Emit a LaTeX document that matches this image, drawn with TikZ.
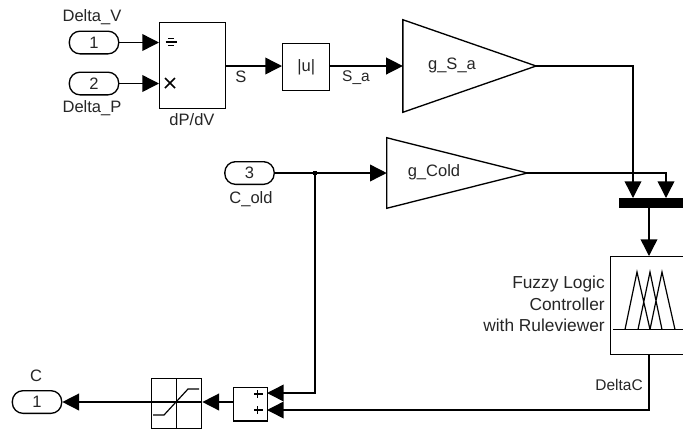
\documentclass[tikz,border=0pt]{standalone}
\usepackage{fontspec}
\setmainfont{Liberation Sans}
\usetikzlibrary{arrows.meta}
\colorlet{inkgray}{black!85}
\tikzset{
  x=0.75pt,y=-0.75pt,
  blockbox/.style={draw=black,line width=1pt,fill=white,inner sep=0pt,anchor=north west},
  port/.style={draw=black,line width=1pt,rounded corners=8pt,inner sep=0pt,minimum width=37pt,minimum height=17pt,text=inkgray,font=\fontsize{12.4}{14}\selectfont},
  gainbox/.style={inner sep=0pt},
  tri/.style={draw=black,line width=1pt,line join=miter},
  wire/.style={draw=black,line width=1.1pt},
  arrowwire/.style={wire,-{Triangle[length=12.5pt,width=12.5pt]}},
  lab/.style={inner sep=0pt,text=inkgray,font=\fontsize{12.4}{14}\selectfont},
  smalllab/.style={inner sep=0pt,text=inkgray,font=\fontsize{11.6}{14}\selectfont},
  sign/.style={draw=black,line width=0.9pt},
}
\begin{document}
\begin{tikzpicture}
\clip (0,0) rectangle (683,430);
\fill[white] (0,0) rectangle (683,430);

% Ports
\node[port] (in1) at (94,42.5) {1};
\node[port] (in2) at (94,83.5) {2};
\node[port] (in3) at (249.5,173) {3};
\node[port] (out1) at (37,402) {1};
\node[lab] (lv) at (92,17) {Delta\_V};
\node[lab] (lp) at (92,108) {Delta\_P};
\node[lab] (lo) at (251,199) {C\_old};
\node[lab] (lc) at (36,376) {C};

% Product
\node[blockbox,minimum width=49.5pt,minimum height=64.5pt] (prod) at (159,22) {};
\node[lab] (lprod) at (192,120) {dP/dV};
\coordinate (p1) at (prod.west |- in1.east);
\coordinate (p2) at (prod.west |- in2.east);
\draw[sign] (165.5,42) -- (177,42);
\draw[sign,line width=1.2pt] (168,38.5) -- (174,38.5) (168,45.5) -- (174,45.5);
\draw[sign,line width=1.1pt] (165,78) -- (175,88) (175,78) -- (165,88);

% Abs
\node[blockbox,minimum width=35.25pt,minimum height=35.25pt] (abs) at (282,43) {};
\node[lab] at (abs.center) {|u|};
\node[lab] (ls) at (241,77) {S};
\node[smalllab] (lsa) at (356,78) {S\_a};

% Gains
\node[gainbox,minimum width=99.5pt,minimum height=69pt] (gsa) at (469.5,66) {};
\draw[tri] (gsa.north west) -- (gsa.east) -- (gsa.south west) -- cycle;
\node[lab] at (452,65.5) {g\_S\_a};
\node[gainbox,minimum width=105pt,minimum height=52.5pt] (gco) at (457,173) {};
\draw[tri] (gco.north west) -- (gco.east) -- (gco.south west) -- cycle;
\node[lab] at (434,172.5) {g\_Cold};

% Mux bar
\node[fill=black,inner sep=0pt,anchor=north west,minimum width=60pt,minimum height=7pt] (mux) at (619,198) {};
\coordinate (m1) at (633,198);
\coordinate (m2) at (666,198);
\coordinate (mo) at (649,207);

% Fuzzy block
\node[blockbox,minimum width=75pt,minimum height=73.5pt] (fuzzy) at (610,256) {};
\coordinate (fi) at (649,256);
\coordinate (fo) at (649,354);
\node[inner sep=0pt,text=inkgray,font=\fontsize{13}{15}\selectfont,align=right,anchor=east] at (605,304) {Fuzzy Logic\\[1pt]Controller\\[1pt]with Ruleviewer};
\draw[wire] (613,329.5) -- (683,329.5);
\draw[wire,line width=0.9pt] (625,329.5) -- (637,272) -- (650,329.5)
  (638,329.5) -- (650,272) -- (662,329.5)
  (650,329.5) -- (662,272) -- (675,329.5);
\node[smalllab,anchor=east] at (643,385) {DeltaC};

% Sum
\node[blockbox,minimum width=25.5pt,minimum height=25pt] (sum) at (233,387) {};
\coordinate (s1) at (267,393);
\coordinate (s2) at (267,410);
\draw[sign] (254,394) -- (263,394) (257.5,390) -- (257.5,398);
\draw[sign] (254,410) -- (263,410) (257.5,406) -- (257.5,414);

% Saturation
\node[blockbox,minimum width=37.5pt,minimum height=37.5pt] (sat) at (151,378) {};
\draw[sign] (sat.north) -- (sat.south);
\coordinate (satw) at (sat.west |- out1.east);
\coordinate (sate) at (sat.east |- out1.east);
\draw[sign] (satw) -- (sate);
\draw[wire,line width=0.9pt] (153,415) -- (164,415) -- (188,389) -- (199,389);

% Wires
\draw[arrowwire] (in1.east) -- (p1);
\draw[arrowwire] (in2.east) -- (p2);
\coordinate (prodo) at (prod.east |- 0,66);
\draw[arrowwire] (prodo) -- (abs.west |- prodo);
\draw[arrowwire] (abs.east |- prodo) -- (gsa.west |- prodo);
\coordinate (turn1) at (m1 |- gsa.east);
\draw[arrowwire] (gsa.east) -- (turn1) -- (m1);
\draw[arrowwire] (in3.east) -- (gco.west |- in3.east);
\coordinate (turn2) at (m2 |- gco.east);
\draw[arrowwire] (gco.east) -- (turn2) -- (m2);
\draw[arrowwire] (mo) -- (fi);
\coordinate (junc) at (315,173);
\fill (junc) +(-2,-2) rectangle +(2,2);
\draw[arrowwire] (junc) -- (junc |- s1) -- (s1);
\draw[arrowwire] (fo) -- (fo |- s2) -- (s2);
\draw[arrowwire] (sum.west |- out1.east) -- (sate);
\draw[arrowwire] (satw) -- (out1.east);
\end{tikzpicture}
\end{document}
